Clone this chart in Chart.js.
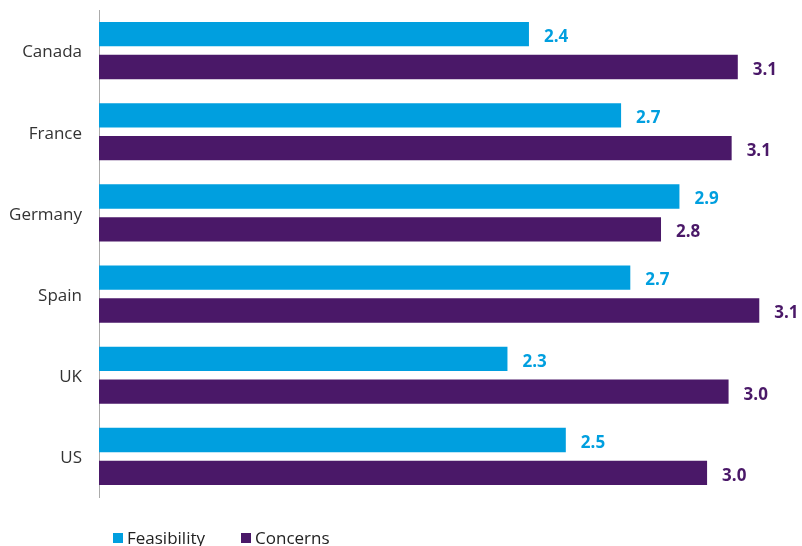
<!DOCTYPE html>
<html>
<head>
<meta charset="utf-8">
<script src="https://cdn.jsdelivr.net/npm/chart.js@4"></script>
<style>
  html, body { margin: 0; padding: 0; background: #fff; }
  #wrap { position: relative; width: 802px; height: 546px; }
  #chart { position: absolute; left: 0; top: 0; }
  #legend { position: absolute; left: 113px; top: 526px; font: 17px "Open Sans", sans-serif; color: #222; display: flex; }
  #legend span.item { display: flex; align-items: center; margin-right: 36px; }
  #legend span.box { width: 10px; height: 10px; margin-right: 4px; display: inline-block; }
</style>
</head>
<body>
<div id="wrap">
  <canvas id="chart" width="802" height="546"></canvas>
  <div id="legend"></div>
</div>
<script>
// categories and series
const countries = ['Canada', 'France', 'Germany', 'Spain', 'UK', 'US'];
const feasibility = [2.40, 2.70, 2.89, 2.73, 2.33, 2.52];
const concerns = [3.08, 3.06, 2.83, 3.15, 3.05, 2.98];
// printed value labels
const feasibilityLabels = ['2.4', '2.7', '2.9', '2.7', '2.3', '2.5'];
const concernsLabels = ['3.1', '3.1', '2.8', '3.1', '3.0', '3.0'];

const BLUE = '#009FDF';
const PURPLE = '#4A1868';

// draws the value text just past the end of each bar
const valueLabels = {
    id: 'valueLabels',
    afterDatasetsDraw(chart) {
        const ctx = chart.ctx;
        ctx.save();
        ctx.font = 'bold 17px "Open Sans", sans-serif';
        ctx.textBaseline = 'middle';
        ctx.textAlign = 'left';
        chart.data.datasets.forEach((ds, di) => {
            const meta = chart.getDatasetMeta(di);
            meta.data.forEach((bar, i) => {
                ctx.fillStyle = ds.backgroundColor;
                ctx.fillText(ds.valueText[i], bar.x + 15, bar.y + 3);
            });
        });
        ctx.restore();
    }
};

const chart = new Chart(document.getElementById('chart'), {
    type: 'bar',
    data: {
        labels: countries,
        datasets: [
            { label: 'Feasibility', data: feasibility, valueText: feasibilityLabels, backgroundColor: BLUE,
              categoryPercentage: 0.81, barPercentage: 0.74 },
            { label: 'Concerns', data: concerns, valueText: concernsLabels, backgroundColor: PURPLE,
              categoryPercentage: 0.81, barPercentage: 0.74 }
        ]
    },
    options: {
        indexAxis: 'y',
        responsive: false,
        animation: false,
        layout: { padding: { top: 10, right: 12, bottom: 49, left: 0 } },
        plugins: {
            legend: { display: false },
            tooltip: { enabled: false }
        },
        scales: {
            x: {
                min: 1,
                max: 3.25,
                display: false
            },
            y: {
                afterFit: (scale) => {
                    scale.width = 99;
                    // the tick padding otherwise pushes the plot area down
                    scale.paddingTop = 0;
                    scale.paddingBottom = 0;
                },
                grid: { display: false, drawTicks: false },
                border: { display: true, color: '#ABABAB', width: 1 },
                ticks: {
                    color: '#333',
                    padding: 17,
                    labelOffset: 2,
                    font: { family: '"Open Sans", sans-serif', size: 17 }
                }
            }
        }
    },
    plugins: [valueLabels]
});

// html legend built from datasets
const legend = document.getElementById('legend');
chart.data.datasets.forEach(ds => {
    const item = document.createElement('span');
    item.className = 'item';
    item.innerHTML = '<span class="box" style="background:' + ds.backgroundColor + '"></span>' + ds.label;
    legend.appendChild(item);
});
</script>
</body>
</html>
